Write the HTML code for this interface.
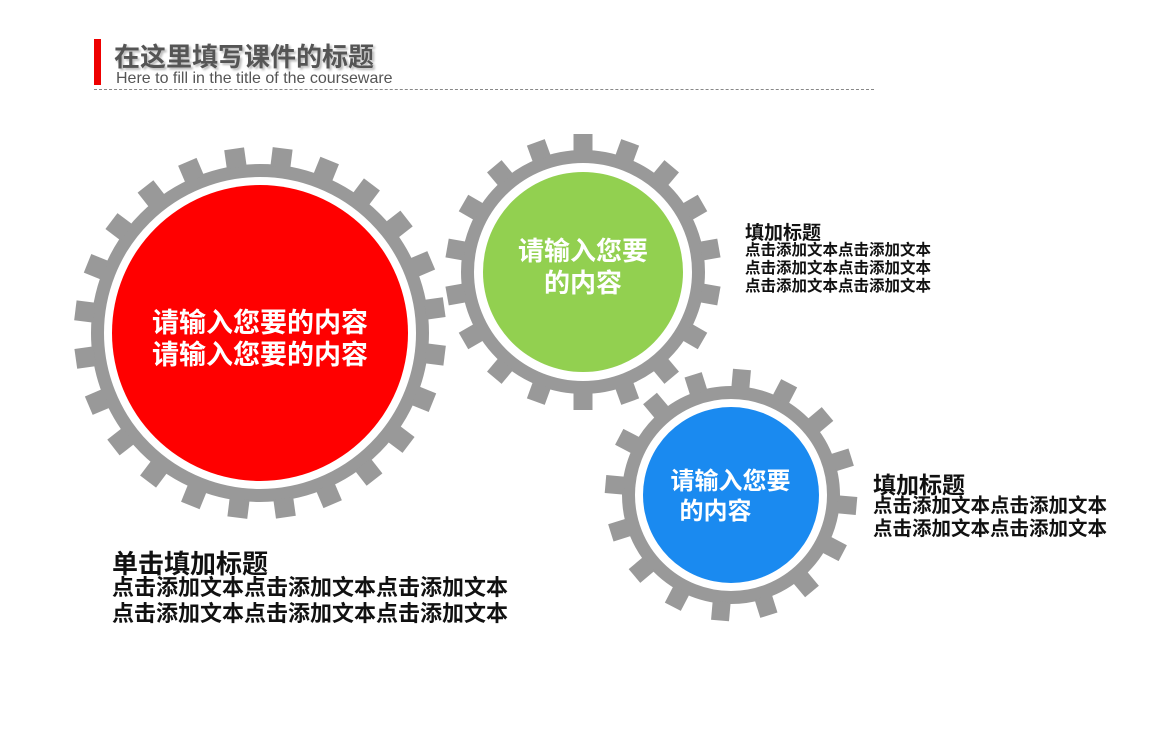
<!DOCTYPE html>
<html><head><meta charset="utf-8"><style>
body{margin:0;width:1172px;height:756px;background:#fff;position:relative;overflow:hidden;font-family:"Liberation Sans","Noto Sans CJK SC",sans-serif}
.a{position:absolute;white-space:nowrap}
.w{color:#fff;font-weight:bold;text-align:center}
.b{font-weight:bold;color:#111}
</style></head><body>
<div class="a" style="left:94px;top:39px;width:7px;height:46px;background:#e00"></div>
<div class="a" style="left:114px;top:37px;font-size:26px;font-weight:bold;color:#555;text-shadow:2px 2px 2px #bbb">在这里填写课件的标题</div>
<div class="a" style="left:116px;top:70px;font-size:16px;color:#555">Here to fill in the title of the courseware</div>
<div class="a" style="left:94px;top:89px;width:780px;border-top:1px dashed #888"></div>
<svg id="s" class="a" style="left:0;top:0" width="1172" height="756"></svg>
<div class="a w" style="left:110px;top:307px;width:300px;font-size:27px;line-height:32px">请输入您要的内容<br>请输入您要的内容</div>
<div class="a w" style="left:483px;top:235px;width:200px;font-size:26px;line-height:32px">请输入您要<br>的内容</div>
<div class="a w" style="left:653px;top:467px;width:155px;font-size:24px;line-height:30px">请输入您要<br><span style="margin-right:30px">的内容</span></div>
<div class="a b" style="left:745px;top:218px;font-size:19px">填加标题</div>
<div class="a b" style="left:745px;top:242px;font-size:15.5px;line-height:18px">点击添加文本点击添加文本<br>点击添加文本点击添加文本<br>点击添加文本点击添加文本</div>
<div class="a b" style="left:873px;top:466px;font-size:23px">填加标题</div>
<div class="a b" style="left:873px;top:495px;font-size:19.5px;line-height:23px">点击添加文本点击添加文本<br>点击添加文本点击添加文本</div>
<div class="a b" style="left:112px;top:544px;font-size:26px">单击填加标题</div>
<div class="a b" style="left:112px;top:575px;font-size:22px;line-height:26px">点击添加文本点击添加文本点击添加文本<br>点击添加文本点击添加文本点击添加文本</div>
<script>
var s=document.getElementById('s'),h='';
function g(cx,cy,rc,ri,ro,rt,n,tw,col,off){
 h+='<circle cx="'+cx+'" cy="'+cy+'" r="'+((ri+ro)/2)+'" fill="none" stroke="#999" stroke-width="'+(ro-ri)+'"/>';
 for(var i=0;i<n;i++){var a=off+i*360/n;
  h+='<rect x="'+(cx-tw/2)+'" y="'+(cy-rt)+'" width="'+tw+'" height="'+(rt-ro+2)+'" fill="#999" transform="rotate('+a+' '+cx+' '+cy+')"/>';}
 h+='<circle cx="'+cx+'" cy="'+cy+'" r="'+rc+'" fill="'+col+'"/>';
}
g(260,333,148,156,169,186,24,20,'#f00',7);
g(583,272,100,109,122,138,18,19,'#92d050',0);
g(731,495,88,96,109,126,16,18,'#1a8af0',5);
s.innerHTML=h;
</script>
</body></html>
